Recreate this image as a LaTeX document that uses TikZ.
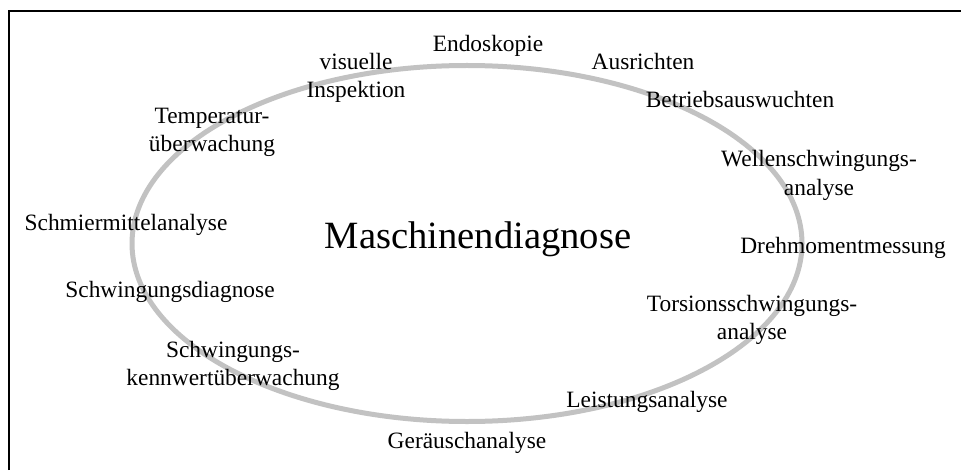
\documentclass[tikz,border=0pt]{standalone}
\usepackage{fontspec}
\setmainfont{Liberation Serif}
\begin{document}
\begin{tikzpicture}[x=0.5pt,y=-0.5pt,
  label/.style={anchor=base,inner sep=0pt,align=center,font=\fontsize{11.7}{14}\selectfont},
  title/.style={anchor=base,inner sep=0pt,font=\fontsize{19.3}{23}\selectfont},
  ring/.style={draw=black!24,line width=2.5pt},
  frame/.style={draw=black,line width=0.8pt}]
\useasboundingbox (0,0) rectangle (961,470);
% open frame (left and top edges)
\draw[frame] (9,470) -- (9,11) -- (961,11);
% surrounding ring
\draw[ring] (467,243.5) ellipse [x radius=335,y radius=178];
% central topic
\node[title] (md) at (478,248) {Maschinendiagnose};
% methods around the ring (two-line labels are placed by their last line)
\node[label] (endo) at (488,52) {Endoskopie};
\node[label] (vis) at (356,98) {visuelle\\Inspektion};
\node[label] (aus) at (643,70) {Ausrichten};
\node[label] (betr) at (740,108) {Betriebsauswuchten};
\node[label] (temp) at (212,152) {Temperatur-\\überwachung};
\node[label] (well) at (819,195) {Wellenschwingungs-\\analyse};
\node[label] (schm) at (126,230) {Schmiermittelanalyse};
\node[label] (dreh) at (843,253) {Drehmomentmessung};
\node[label] (sdia) at (170,297) {Schwingungsdiagnose};
\node[label] (tors) at (752,339) {Torsionsschwingungs-\\analyse};
\node[label] (kenn) at (233,385) {Schwingungs-\\kennwertüberwachung};
\node[label] (leis) at (647,407) {Leistungsanalyse};
\node[label] (ger) at (467,448) {Geräuschanalyse};
\end{tikzpicture}
\end{document}
